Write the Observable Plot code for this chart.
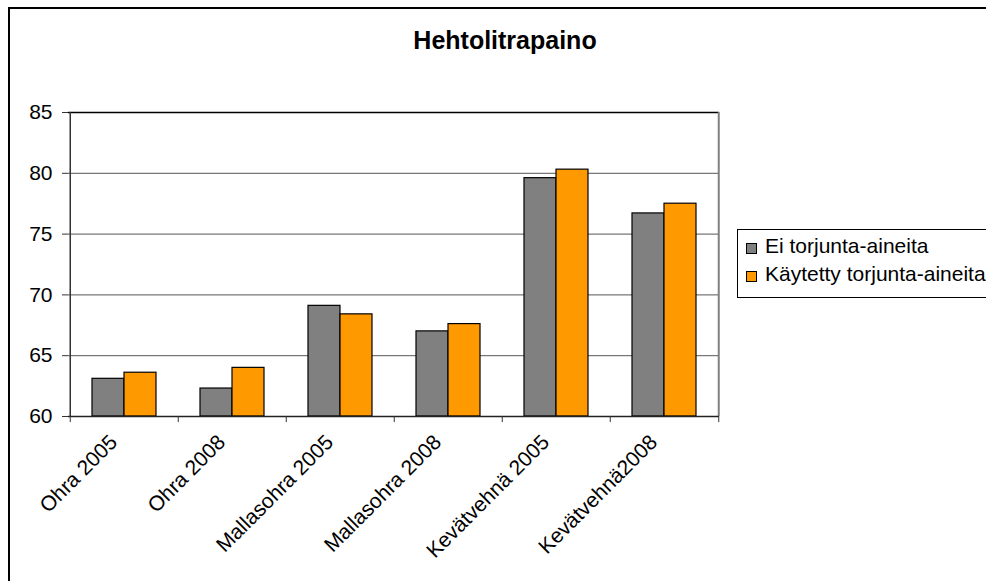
<!DOCTYPE html>
<html>
<head>
<meta charset="utf-8">
<script src="https://cdn.jsdelivr.net/npm/d3@7"></script>
<script src="https://cdn.jsdelivr.net/npm/@observablehq/plot@0.6"></script>
<style>
  body { margin: 0; background: #fff; }
  #chart { position: relative; width: 986px; height: 581px; overflow: hidden; font-family: "Liberation Sans", Arial, sans-serif; color: #000; }
  #border { position: absolute; left: 8px; top: 7px; width: 2000px; height: 2000px; border-left: 2px solid #000; border-top: 2px solid #000; }
  #title { position: absolute; left: 0; top: 28px; width: 1010px; text-align: center; font-size: 25px; line-height: 25px; font-weight: bold; }
  #plot { position: absolute; left: 0; top: 0; }
  #legend { position: absolute; left: 737px; top: 229px; width: 320px; height: 67px; border: 1px solid #000; background: #fff; }
  .sw { position: absolute; width: 9px; height: 9px; border: 1px solid #000; }
  .lt { position: absolute; font-size: 21px; line-height: 21px; white-space: nowrap; }
</style>
</head>
<body>
<div id="chart">
  <div id="border"></div>
  <div id="title"></div>
  <div id="plot"></div>
  <div id="legend"></div>
</div>
<script>
// Hehtolitrapaino (hectolitre weight), by crop and year
const categories = ["Ohra 2005", "Ohra 2008", "Mallasohra 2005", "Mallasohra 2008", "Kevätvehnä 2005", "Kevätvehnä2008"];
const seriesNames = ["Ei torjunta-aineita", "Käytetty torjunta-aineita"];
const untreated = [63.1, 62.3, 69.1, 67.0, 79.6, 76.7];
const treated = [63.6, 64.0, 68.4, 67.6, 80.3, 77.5];
const yTicks = [60, 65, 70, 75, 80, 85];
const colors = ["#808080", "#FF9900"];
const titleText = "Hehtolitrapaino";

document.getElementById("title").textContent = titleText;

const width = 986, height = 581;
const margin = {left: 68, right: 267, top: 112, bottom: 165};
const paddingInner = 0.41, paddingOuter = 0.205;
const plotW = width - margin.left - margin.right;
const step = plotW / (categories.length - paddingInner + 2 * paddingOuter);
const halfBand = step * (1 - paddingInner) / 2;

const rowsA = categories.map((c, i) => ({cat: c, value: untreated[i]}));
const rowsB = categories.map((c, i) => ({cat: c, value: treated[i]}));
const last = categories[categories.length - 1];

const chart = Plot.plot({
  width, height,
  marginLeft: margin.left, marginRight: margin.right,
  marginTop: margin.top, marginBottom: margin.bottom,
  style: {fontFamily: "'Liberation Sans', Arial, sans-serif", fontSize: "21px", color: "#000", background: "transparent", overflow: "visible"},
  x: {domain: categories, paddingInner, paddingOuter, axis: null},
  y: {domain: [60, 85], axis: null},
  marks: [
    // horizontal gridlines
    Plot.ruleY(yTicks.slice(1, -1), {stroke: "#555", strokeWidth: 1}),
    Plot.ruleY([85], {stroke: "#000", strokeWidth: 1.3}),
    // bars: left half of each band = no pesticides, right half = pesticides used
    Plot.barY(rowsA, {x: "cat", y1: 60, y2: "value", fill: colors[0], stroke: "#000", strokeWidth: 1.2, insetRight: halfBand}),
    Plot.barY(rowsB, {x: "cat", y1: 60, y2: "value", fill: colors[1], stroke: "#000", strokeWidth: 1.2, insetLeft: halfBand}),
    // plot-area right edge
    Plot.ruleX([last], {y1: 60, y2: 85, dx: step / 2, stroke: "#808080", strokeWidth: 2}),
    // left value axis line
    Plot.ruleX([categories[0]], {y1: 60, y2: 85, dx: -step / 2, stroke: "#333", strokeWidth: 1.5}),
    // category axis line and boundary tick marks
    Plot.ruleY([60], {stroke: "#222", strokeWidth: 1.5}),
    Plot.ruleX(categories, {x: d => d, y1: 60, y2: 59.5, dx: -step / 2, stroke: "#333"}),
    Plot.ruleX([last], {y1: 60, y2: 59.5, dx: step / 2, stroke: "#333"}),
    // value axis ticks and labels
    Plot.axisY(yTicks, {label: null, tickSize: 6, tickPadding: 10, fontSize: 21, stroke: "#333"}),
    // rotated category labels
    Plot.text(categories, {x: d => d, frameAnchor: "bottom", text: d => d, rotate: -45, textAnchor: "end", dx: -6, dy: 27, fontSize: 21, fill: "#000"})
  ]
});
document.getElementById("plot").appendChild(chart);

// legend to the right of the plot
const legend = document.getElementById("legend");
seriesNames.forEach((name, i) => {
  const sw = document.createElement("div");
  sw.className = "sw";
  sw.style.left = "8px";
  sw.style.top = (13 + i * 28) + "px";
  sw.style.background = colors[i];
  legend.appendChild(sw);
  const t = document.createElement("div");
  t.className = "lt";
  t.style.left = "27px";
  t.style.top = (5 + i * 28) + "px";
  t.textContent = name;
  legend.appendChild(t);
});
</script>
</body>
</html>
